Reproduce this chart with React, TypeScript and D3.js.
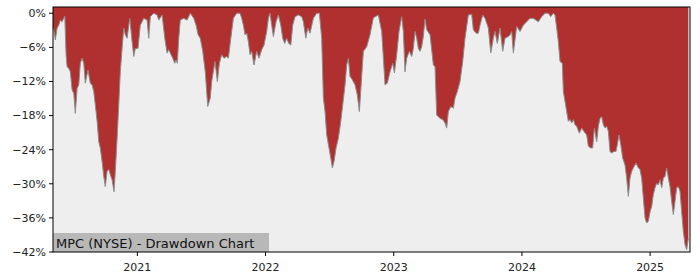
import React from "react";
import * as d3 from "d3";

// decimal-year dates
const dates: number[] = [
  2020.342, 2020.348, 2020.360, 2020.374, 2020.387, 2020.399, 2020.413, 2020.434, 2020.444, 2020.452,
  2020.465, 2020.477, 2020.491, 2020.504, 2020.516, 2020.530, 2020.543, 2020.555, 2020.569, 2020.582,
  2020.594, 2020.615, 2020.633, 2020.647, 2020.660, 2020.672, 2020.686, 2020.699, 2020.711, 2020.725,
  2020.738, 2020.750, 2020.764, 2020.777, 2020.789, 2020.803, 2020.818, 2020.828, 2020.842, 2020.855,
  2020.867, 2020.881, 2020.894, 2020.906, 2020.920, 2020.941, 2020.959, 2020.972, 2020.984, 2021.005,
  2021.023, 2021.050, 2021.076, 2021.089, 2021.101, 2021.128, 2021.154, 2021.167, 2021.193, 2021.214,
  2021.232, 2021.245, 2021.263, 2021.276, 2021.292, 2021.302, 2021.312, 2021.323, 2021.335, 2021.362,
  2021.388, 2021.413, 2021.440, 2021.458, 2021.474, 2021.491, 2021.510, 2021.530, 2021.549, 2021.569,
  2021.580, 2021.606, 2021.624, 2021.640, 2021.658, 2021.676, 2021.697, 2021.710, 2021.729, 2021.749,
  2021.775, 2021.801, 2021.814, 2021.827, 2021.840, 2021.853, 2021.866, 2021.879, 2021.892, 2021.910,
  2021.931, 2021.949, 2021.970, 2021.988, 2022.009, 2022.022, 2022.035, 2022.048, 2022.061, 2022.082,
  2022.100, 2022.119, 2022.134, 2022.150, 2022.165, 2022.181, 2022.197, 2022.212, 2022.230, 2022.256,
  2022.282, 2022.295, 2022.314, 2022.329, 2022.347, 2022.373, 2022.399, 2022.420, 2022.438, 2022.451,
  2022.464, 2022.477, 2022.495, 2022.509, 2022.521, 2022.534, 2022.550, 2022.568, 2022.587, 2022.602,
  2022.620, 2022.633, 2022.646, 2022.659, 2022.677, 2022.698, 2022.716, 2022.732, 2022.750, 2022.763,
  2022.789, 2022.815, 2022.841, 2022.880, 2022.906, 2022.932, 2022.950, 2022.971, 2022.992, 2023.005,
  2023.023, 2023.041, 2023.062, 2023.075, 2023.088, 2023.101, 2023.122, 2023.140, 2023.153, 2023.166,
  2023.179, 2023.192, 2023.205, 2023.218, 2023.231, 2023.244, 2023.257, 2023.283, 2023.309, 2023.322,
  2023.335, 2023.361, 2023.382, 2023.400, 2023.413, 2023.426, 2023.445, 2023.465, 2023.478, 2023.496,
  2023.517, 2023.538, 2023.556, 2023.582, 2023.608, 2023.621, 2023.642, 2023.660, 2023.673, 2023.694,
  2023.712, 2023.738, 2023.757, 2023.777, 2023.790, 2023.808, 2023.829, 2023.850, 2023.868, 2023.894,
  2023.907, 2023.920, 2023.933, 2023.959, 2023.985, 2024.011, 2024.037, 2024.063, 2024.089, 2024.128,
  2024.154, 2024.180, 2024.206, 2024.225, 2024.245, 2024.258, 2024.271, 2024.284, 2024.297, 2024.315,
  2024.323, 2024.336, 2024.349, 2024.362, 2024.375, 2024.388, 2024.401, 2024.414, 2024.427, 2024.448,
  2024.466, 2024.484, 2024.505, 2024.518, 2024.537, 2024.552, 2024.565, 2024.583, 2024.596, 2024.609,
  2024.622, 2024.635, 2024.648, 2024.661, 2024.674, 2024.687, 2024.700, 2024.718, 2024.734, 2024.744,
  2024.757, 2024.771, 2024.786, 2024.804, 2024.817, 2024.830, 2024.843, 2024.856, 2024.874, 2024.890,
  2024.908, 2024.921, 2024.934, 2024.947, 2024.960, 2024.973, 2024.986, 2025.000, 2025.012, 2025.025,
  2025.038, 2025.051, 2025.064, 2025.077, 2025.090, 2025.103, 2025.116, 2025.129, 2025.142, 2025.155,
  2025.168, 2025.181, 2025.194, 2025.207, 2025.220, 2025.233, 2025.246, 2025.259, 2025.272, 2025.285,
  2025.298,
];

// drawdown in percent
const drawdown: number[] = [
  -2.5, -2.9, -4.7, -2.6, -2.1, -1.2, -1.5, -0.5, -7.3, -9.4,
  -9.7, -10.3, -13.5, -14.1, -17.6, -13.2, -12.6, -8.8, -7.9, -8.8,
  -12.3, -10.0, -12.3, -12.6, -13.8, -16.1, -19.0, -22.6, -23.7, -26.1,
  -28.7, -30.5, -27.8, -27.5, -28.4, -29.3, -31.4, -27.8, -22.0, -16.1,
  -10.3, -6.2, -2.6, -3.8, -4.4, -0.9, -5.0, -7.6, -6.2, -6.2,
  -2.1, -0.9, -1.2, -4.4, -0.6, 0.0, -0.3, -1.2, -0.3, -4.4,
  -7.0, -6.4, -7.3, -7.9, -8.8, -8.2, -8.8, -4.4, -1.2, -0.9,
  -1.2, 0.0, -0.9, -2.1, -3.8, -4.4, -6.7, -10.3, -16.4, -14.9,
  -12.0, -8.5, -12.0, -8.8, -7.3, -7.9, -7.6, -7.9, -4.4, -0.9,
  0.0, 0.0, -0.9, -2.1, -3.8, -3.5, -5.0, -7.3, -6.7, -9.1,
  -6.7, -7.9, -6.4, -5.6, -3.2, -0.9, 0.0, -2.1, -4.1, -1.5,
  -0.3, -2.1, -4.4, -5.3, -4.4, -5.3, -5.6, -2.1, -0.6, -0.3,
  -0.6, -1.5, -4.4, -2.6, -3.5, -0.9, 0.0, 0.0, -4.4, -14.9,
  -17.3, -21.4, -23.7, -25.5, -27.2, -26.1, -23.7, -22.0, -19.0, -16.1,
  -12.6, -9.1, -7.9, -11.1, -11.7, -12.6, -14.4, -17.3, -11.1, -6.7,
  -5.9, -3.8, -0.8, -0.3, -3.2, -12.6, -12.3, -10.3, -8.8, -10.5,
  -7.3, -3.2, -0.6, -3.2, -10.3, -7.9, -6.7, -7.6, -6.2, -3.2,
  -4.4, -6.2, -6.7, -5.9, -4.1, -1.0, -2.9, -3.8, -9.1, -9.4,
  -17.9, -18.5, -18.7, -19.3, -20.2, -17.3, -16.4, -16.7, -14.9, -13.8,
  -12.0, -8.5, -4.4, -0.3, -0.2, -2.9, -3.5, -3.5, -2.1, -0.3,
  -0.9, -2.6, -7.0, -4.4, -3.2, -5.3, -2.6, -6.7, -4.4, -4.1,
  -3.8, -3.2, -7.0, -2.3, -3.2, -2.1, -1.5, -0.9, -0.9, -1.5,
  -0.6, 0.0, 0.0, -0.6, 0.0, -0.3, -2.6, -5.0, -8.5, -8.8,
  -13.8, -15.5, -17.3, -19.0, -18.7, -19.3, -18.7, -19.6, -19.9, -21.1,
  -20.2, -20.8, -21.4, -23.4, -23.7, -23.7, -20.2, -22.6, -19.9, -18.5,
  -18.2, -19.6, -20.2, -19.9, -20.8, -24.3, -24.6, -24.3, -24.3, -23.1,
  -21.4, -23.1, -25.5, -26.7, -29.0, -32.2, -29.0, -27.8, -27.0, -26.4,
  -27.2, -27.5, -29.0, -32.5, -36.0, -36.9, -36.6, -34.9, -34.0, -31.9,
  -30.7, -29.9, -30.2, -29.3, -30.7, -29.0, -28.7, -27.2, -29.0, -30.5,
  -33.1, -35.4, -33.1, -30.7, -30.5, -31.3, -34.9, -38.4, -40.7, -41.6,
  -39.6,
];

const yTicks: number[] = [0, -6, -12, -18, -24, -30, -36, -42];
const xTicks: number[] = [2021, 2022, 2023, 2024, 2025];
const title = "MPC (NYSE) - Drawdown Chart";

const W = 700;
const H = 280;
const L = 53;
const R = 690;
const T = 7;
const B = 252;

export default function App() {
  const x = d3.scaleLinear().domain([2020.342, 2025.311]).range([L, R]);
  const y = d3.scaleLinear().domain([-42, 1.1]).range([B, T]);
  const pts = dates.map((d, i) => [d, drawdown[i]] as [number, number]);

  const area = d3
    .area<[number, number]>()
    .x((d) => x(d[0]))
    .y0(() => y(1.1))
    .y1((d) => y(d[1]));
  const line = d3
    .line<[number, number]>()
    .x((d) => x(d[0]))
    .y((d) => y(d[1]));

  const fmt = (v: number) => (v < 0 ? "\u2212" + Math.abs(v) : String(v)) + "%";
  const font = "DejaVu Sans, sans-serif";

  return (
    <svg
      width={W}
      height={H}
      style={{ position: "absolute", left: 0, top: 0, background: "#ffffff" }}
    >
      <rect x={L} y={T} width={R - L} height={B - T} fill="#eeeeee" />
      <path d={area(pts) || ""} fill="#b03030" />
      <path d={line(pts) || ""} fill="none" stroke="#8c8c8c" strokeWidth={1} />

      {/* title box */}
      <rect x={L} y={233} width={216} height={B - 233} fill="#b8b8b8" />
      <text x={56} y={247.5} fontFamily={font} fontSize={13} fill="#111">
        {title}
      </text>

      {/* spines */}
      <rect x={L} y={T} width={R - L} height={B - T} fill="none" stroke="#000" strokeWidth={1} />

      {/* y ticks */}
      {yTicks.map((t) => (
        <g key={t}>
          <line x1={L - 4} x2={L} y1={y(t)} y2={y(t)} stroke="#000" strokeWidth={1} />
          <text
            x={L - 7}
            y={y(t)}
            dy="0.35em"
            textAnchor="end"
            fontFamily={font}
            fontSize={11}
            fill="#222"
          >
            {fmt(t)}
          </text>
        </g>
      ))}

      {/* x ticks */}
      {xTicks.map((t) => (
        <g key={t}>
          <line x1={x(t)} x2={x(t)} y1={B} y2={B + 4} stroke="#000" strokeWidth={1} />
          <text
            x={x(t)}
            y={271}
            textAnchor="middle"
            fontFamily={font}
            fontSize={11}
            fill="#222"
          >
            {t}
          </text>
        </g>
      ))}
    </svg>
  );
}
